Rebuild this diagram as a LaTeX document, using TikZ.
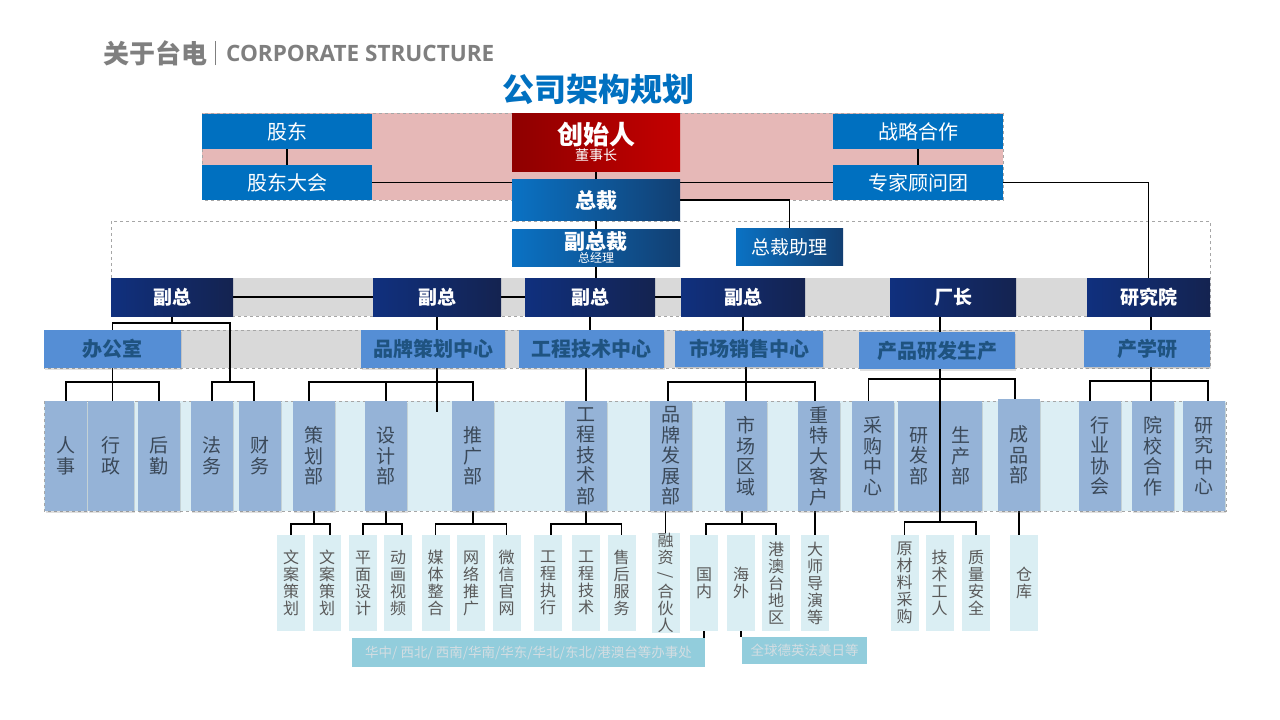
\documentclass[tikz,border=0pt]{standalone}
\usepackage{fontspec}
\setmainfont{Noto Sans CJK SC}
\newfontfamily\hdfont{Open Sans}
\usetikzlibrary{shadows}
\definecolor{topblue}{HTML}{0070C0}
\definecolor{pinkbg}{HTML}{E6B8B7}
\definecolor{redL}{HTML}{8E0000}
\definecolor{redR}{HTML}{C40000}
\definecolor{bL}{HTML}{0A72C4}
\definecolor{bR}{HTML}{123F72}
\definecolor{navyL}{HTML}{10307E}
\definecolor{navyR}{HTML}{142350}
\definecolor{grayband}{HTML}{D9D9D9}
\definecolor{midblue}{HTML}{558ED5}
\definecolor{midtext}{HTML}{1F5380}
\definecolor{lightband}{HTML}{DCEEF4}
\definecolor{steel}{HTML}{95B3D7}
\definecolor{steeltext}{HTML}{3A4858}
\definecolor{palebox}{HTML}{DAEEF3}
\definecolor{paletext}{HTML}{595959}
\definecolor{bannerc}{HTML}{92CDDC}
\definecolor{bannertext}{HTML}{D3DDE2}
\definecolor{hdgray}{HTML}{7F7F7F}
\definecolor{dashgray}{HTML}{A6A6A6}
\pgfdeclarelayer{back}
\pgfdeclarelayer{lines}
\pgfsetlayers{back,lines,main}
\begin{document}
\begin{tikzpicture}[x=1pt,y=-1pt,
  box/.style={rectangle, inner sep=0pt, outer sep=0pt, align=center},
  topbox/.style={box, fill=topblue, text=white, font=\fontsize{20}{22}\selectfont, minimum width=170, minimum height=35},
  redbox/.style={box, left color=redL, right color=redR, text=white},
  gradbox/.style={box, left color=bL, right color=bR, text=white},
  navybox/.style={box, left color=navyL, right color=navyR, text=white, font=\fontsize{19}{20}\selectfont\bfseries, minimum height=38},
  centbox/.style={box, fill=midblue, text=midtext, font=\fontsize{20}{22}\selectfont\bfseries, minimum height=38, drop shadow={opacity=0.25, shadow xshift=1pt, shadow yshift=-1.5pt}},
  deptbox/.style={box, fill=steel, text=steeltext, font=\fontsize{19}{20.5}\selectfont, minimum width=42, minimum height=110, drop shadow={opacity=0.25, shadow xshift=1pt, shadow yshift=-1.5pt}},
  subbox/.style={box, fill=palebox, text=paletext, font=\fontsize{16}{17}\selectfont, minimum width=28, minimum height=96},
  banner/.style={box, fill=bannerc, text=bannertext, font=\fontsize{13.5}{14}\selectfont},
  conn/.style={draw=black, line width=1.1pt},
  dashline/.style={draw=dashgray, dashed, line width=0.6pt}
]
\useasboundingbox (0,0) rectangle (1280,720);
\begin{pgfonlayer}{back}
\fill[white] (0,0) rectangle (1280,720);
\path[fill=pinkbg, dashline] (202,113) rectangle (1003,200);
\path[dashline] (111,221) rectangle (1210,316);
\path[fill=grayband] (111,278) rectangle (1210,316);
\path[fill=grayband, dashline] (44,330) rectangle (1210,368);
\path[fill=lightband, dashline] (44,401) rectangle (1226,511);
\end{pgfonlayer}

% header
\node[anchor=west, inner sep=0, font=\fontsize{26}{26}\selectfont\bfseries, text=hdgray] (hd1) at (103,53) {关于台电};
\node[anchor=west, inner sep=0, font=\hdfont\fontsize{22.5}{24}\selectfont\bfseries, text=hdgray] (hd2) at (226,53) {CORPORATE STRUCTURE};
\draw[hdgray, line width=0.6pt] ([xshift=8,yshift=-12]hd1.east) -- ([xshift=8,yshift=12]hd1.east);
\node[inner sep=0, font=\fontsize{32}{34}\selectfont\bfseries, text=topblue] (title) at (598,89) {公司架构规划};

% top level
\node[topbox] (gd) at (287,131.5) {股东};
\node[topbox] (gddh) at (287,182.5) {股东大会};
\node[topbox] (zlhz) at (918,131.5) {战略合作};
\node[topbox] (zjgw) at (918,182.5) {专家顾问团};
\node[redbox, minimum width=168, minimum height=58] (csr) at (596,142) {\fontsize{26}{20}\selectfont\bfseries 创始人\\\fontsize{14}{20}\selectfont 董事长};
\node[gradbox, minimum width=168, minimum height=41, font=\fontsize{21}{22}\selectfont\bfseries] (zc) at (596,200) {总裁};
\node[gradbox, minimum width=168, minimum height=37] (fzc) at (596,247.5) {\fontsize{21}{16}\selectfont\bfseries 副总裁\\\fontsize{12}{16}\selectfont 总经理};
\node[gradbox, minimum width=107, minimum height=37, font=\fontsize{19}{20}\selectfont] (zczl) at (789.5,247) {总裁助理};

% 副总 row
\node[navybox, minimum width=122] (fz1) at (172,297) {副总};
\node[navybox, minimum width=128] (fz2) at (437,297) {副总};
\node[navybox, minimum width=130] (fz3) at (590,297) {副总};
\node[navybox, minimum width=124] (fz4) at (743,297) {副总};
\node[navybox, minimum width=126] (cz) at (953,297) {厂长};
\node[navybox, minimum width=123] (yjy) at (1148.5,297) {研究院};

% centres
\node[centbox, minimum width=137] (bgs) at (112.5,349) {办公室};
\node[centbox, minimum width=144] (ppch) at (433,349) {品牌策划中心};
\node[centbox, minimum width=145] (gcjs) at (591.5,349) {工程技术中心};
\node[centbox, minimum width=148, minimum height=36] (scxs) at (749,349) {市场销售中心};
\node[centbox, minimum width=156, minimum height=37] (cpyf) at (937,350.5) {产品研发生产};
\node[centbox, minimum width=126, minimum height=37] (cxy) at (1147,348.5) {产学研};

% departments
\node[deptbox] (rs) at (66,456) {人\\事};
\node[deptbox, minimum width=46] (xz) at (110.5,456) {行\\政};
\node[deptbox] (hq) at (159,456) {后\\勤};
\node[deptbox] (fw) at (212,456) {法\\务};
\node[deptbox] (cw) at (260,456) {财\\务};
\node[deptbox] (chb) at (314,456) {策\\划\\部};
\node[deptbox] (sjb) at (386,456) {设\\计\\部};
\node[deptbox] (tgb) at (473,456) {推\\广\\部};
\node[deptbox] (gcjsb) at (586,456) {工\\程\\技\\术\\部};
\node[deptbox] (ppfz) at (671,456) {品\\牌\\发\\展\\部};
\node[deptbox] (scqy) at (746,456) {市\\场\\区\\域};
\node[deptbox] (tdkh) at (819,456) {重\\特\\大\\客\\户};
\node[deptbox] (cgzx) at (872.5,456) {采\\购\\中\\心};
\node[deptbox] (yfb) at (919,456) {研\\发\\部};
\node[deptbox] (scb) at (961,456) {生\\产\\部};
\node[deptbox, minimum height=112] (cpb) at (1019,455) {成\\品\\部};
\node[deptbox] (hyxh) at (1100,456) {行\\业\\协\\会};
\node[deptbox] (yxhz) at (1153,456) {院\\校\\合\\作};
\node[deptbox] (yjzx) at (1204,456) {研\\究\\中\\心};

% sub units
\node[subbox] (wach1) at (291,583) {文\\案\\策\\划};
\node[subbox] (wach2) at (327,583) {文\\案\\策\\划};
\node[subbox] (pmsj) at (363,583) {平\\面\\设\\计};
\node[subbox] (dhsp) at (398,583) {动\\画\\视\\频};
\node[subbox] (mtzh) at (435.5,583) {媒\\体\\整\\合};
\node[subbox] (wltg) at (471,583) {网\\络\\推\\广};
\node[subbox] (wxgw) at (506.5,583) {微\\信\\官\\网};
\node[subbox] (gczx) at (548,583) {工\\程\\执\\行};
\node[subbox] (gcjs2) at (586,583) {工\\程\\技\\术};
\node[subbox] (shfw) at (621.5,583) {售\\后\\服\\务};
\node[subbox] (rz) at (665.5,583) {融\\资\\\rotatebox[origin=c]{90}{/}\\合\\伙\\人};
\node[subbox] (gn) at (704,583) {国\\内};
\node[subbox] (hw) at (741,583) {海\\外};
\node[subbox] (gat) at (776,583) {港\\澳\\台\\地\\区};
\node[subbox] (dsdy) at (815,583) {大\\师\\导\\演\\等};
\node[subbox] (ycl) at (904.5,583) {原\\材\\料\\采\\购};
\node[subbox] (jsgr) at (939.5,583) {技\\术\\工\\人};
\node[subbox] (zlaq) at (976,583) {质\\量\\安\\全};
\node[subbox] (ck) at (1024,583) {仓\\库};

% banners
\node[banner, minimum width=353, minimum height=29] (bsc) at (528.5,652.5) {华中/ 西北/ 西南/华南/华东/华北/东北/港澳台等办事处};
\node[banner, minimum width=125, minimum height=27] (qq) at (804.5,650.5) {全球德英法美日等};

% junctions
\coordinate (j1) at (172,323);
\coordinate (j2) at (230,382);
\coordinate (j3) at (112.5,382);
\coordinate (j4) at (437,382);
\coordinate (j4e) at (437,412);
\coordinate (j5) at (746,382);
\coordinate (j6) at (940,379);
\coordinate (j7) at (1151,381);
\coordinate (k1) at (314,524);
\coordinate (k2) at (386,524);
\coordinate (k3) at (473,524);
\coordinate (k4) at (586,524);
\coordinate (k5) at (742,524);
\coordinate (k6) at (940,522);

\begin{pgfonlayer}{lines}
\draw[conn] (gd) -- (gddh);
\draw[conn] (zlhz) -- (zjgw);
\draw[conn] (gddh.east) -- (zjgw.west);
\draw[conn] (csr) -- (zc);
\draw[conn] (zc) -- (fzc);
\draw[conn] (fzc.south) -- (fzc.south |- fz3.north);
\draw[conn] (zc.east) -| (zczl.north);
\draw[conn] (zjgw.east) -| (yjy.north);
\draw[conn] (fz1) -- (fz2);
\draw[conn] (fz2) -- (fz3);
\draw[conn] (fz3) -- (fz4);
% 副总 1
\draw[conn] (fz1.south) -- (j1);
\draw[conn] (bgs.north) |- (j1) -| (j2);
\draw[conn] (fw.north) |- (j2) -| ([xshift=-6]cw.north);
% 办公室
\draw[conn] (bgs.south) -- (bgs.south |- xz.north);
\draw[conn] (rs.north) |- (j3) -| (hq.north);
% 品牌策划中心
\draw[conn] (fz2.south) -- (fz2.south |- ppch.north);
\draw[conn] (fz2.south |- ppch.south) -- (j4e);
\draw[conn] ([xshift=-5]chb.north) |- (j4) -| (tgb.north);
\draw[conn] (sjb.north) -- (sjb.north |- j4);
% 工程技术中心
\draw[conn] (fz3.south) -- (fz3.south |- gcjs.north);
\draw[conn] (gcjsb.north |- gcjs.south) -- (gcjsb.north);
% 市场销售中心
\draw[conn] (fz4.south) -- (fz4.south |- scxs.north);
\draw[conn] (scqy.north |- scxs.south) -- (scqy.north);
\draw[conn] ([xshift=-3]ppfz.north) |- (j5) -| ([xshift=-4]tdkh.north);
% 产品研发生产
\draw[conn] (cz.south -| j6) -- (cpyf.north -| j6);
\draw[conn] ([xshift=-4]cgzx.north) |- (j6) -| ([xshift=-4]cpb.north);
% 产学研
\draw[conn] (yjy.south -| j7) -- (cxy.north -| j7);
\draw[conn] (cxy.south -| j7) -- (yxhz.north -| j7);
\draw[conn] ([xshift=-10]hyxh.north) |- (j7) -| ([xshift=4]yjzx.north);
% bottom tier
\draw[conn] (chb.south) -- (k1);
\draw[conn] (wach1.north) |- (k1) -| ([xshift=3]wach2.north);
\draw[conn] (sjb.south) -- (k2);
\draw[conn] (pmsj.north) |- (k2) -| ([xshift=4]dhsp.north);
\draw[conn] (tgb.south) -- (k3);
\draw[conn] (mtzh.north) |- (k3) -| (wxgw.north);
\draw[conn] (gcjsb.south) -- (k4);
\draw[conn] ([xshift=3]gczx.north) |- (k4) -| (shfw.north);
\draw[conn] (rz.north |- ppfz.south) -- (rz.north);
\draw[conn] (k5 |- scqy.south) -- (k5);
\draw[conn] ([xshift=2]gn.north) |- (k5) -| (gat.north);
\draw[conn] (dsdy.north |- tdkh.south) -- (dsdy.north);
\draw[conn] (ycl.north) |- (k6) -| (zlaq.north);
\draw[conn] (cpb.south) -- (cpb.south |- ck.north);
\draw[conn] (gn.south) -- (gn.south |- bsc.north);
\draw[conn] (hw.south) -- (hw.south |- qq.north);
\end{pgfonlayer}
\draw[conn] (cpyf.south -| j6) -- (k6);
\end{tikzpicture}
\end{document}
